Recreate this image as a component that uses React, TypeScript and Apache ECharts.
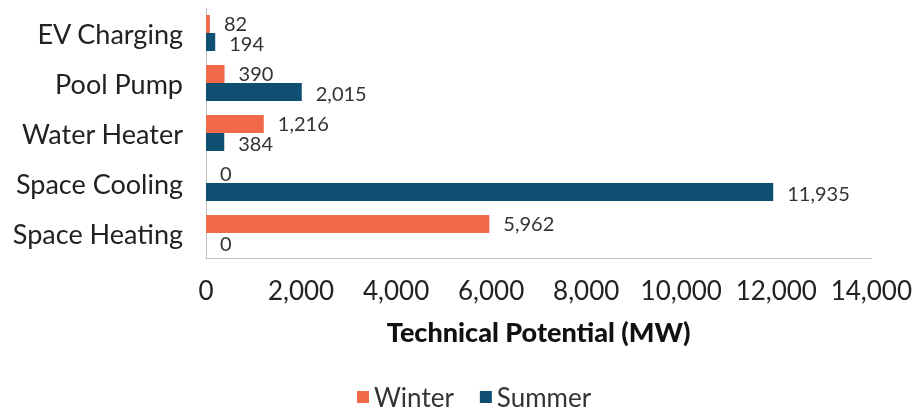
import React, { useEffect, useRef } from "react";
import * as echarts from "echarts";

const categories = ["Space Heating", "Space Cooling", "Water Heater", "Pool Pump", "EV Charging"];
const winterValues = [5962, 0, 1216, 390, 82];
const summerValues = [0, 11935, 384, 2015, 194];
const xTicks = { min: 0, max: 14000, interval: 2000 };

const FONT = "Lato, 'Noto Sans', sans-serif";
const fmt = (v: number) => v.toLocaleString("en-US");

export default function App() {
  const ref = useRef<HTMLDivElement>(null);
  useEffect(() => {
    if (!ref.current) return;
    const chart = echarts.init(ref.current, undefined, { renderer: "svg" });
    const labelCfg = (dy: number) => ({
      show: true,
      position: "right",
      distance: 14,
      offset: [0, dy],
      fontFamily: FONT,
      fontSize: 20,
      color: "#333",
      formatter: (p: any) => fmt(p.value),
    });
    chart.setOption({
      animation: false,
      textStyle: { fontFamily: FONT },
      grid: { left: 206, top: 8, right: 43, bottom: 155, containLabel: false },
      legend: {
        bottom: -2,
        left: 352,
        icon: "rect",
        itemWidth: 12,
        itemHeight: 12,
        itemGap: 26,
        textStyle: { fontFamily: FONT, fontSize: 26, color: "#333" },
        data: ["Winter", "Summer"],
      },
      xAxis: {
        type: "value",
        min: xTicks.min,
        max: xTicks.max,
        interval: xTicks.interval,
        axisLine: { show: true, lineStyle: { color: "#BFBFBF", width: 1 } },
        axisTick: { show: false },
        splitLine: { show: false },
        axisLabel: { fontFamily: FONT, fontSize: 26, color: "#222", margin: 19, formatter: (v: number) => fmt(v) },
        name: "Technical Potential (MW)",
        nameLocation: "middle",
        nameGap: 60,
        nameTextStyle: { fontFamily: FONT, fontSize: 27, fontWeight: 900, color: "#111" },
      },
      yAxis: {
        type: "category",
        data: categories,
        axisLine: { show: true, lineStyle: { color: "#BFBFBF", width: 1 } },
        axisTick: { show: false },
        axisLabel: { fontFamily: FONT, fontSize: 27, color: "#222", margin: 23 },
      },
      series: [
        {
          name: "Winter",
          type: "bar",
          data: winterValues,
          itemStyle: { color: "#F2694A" },
          barWidth: 18,
          barGap: "0%",
          label: labelCfg(-1),
        },
        {
          name: "Summer",
          type: "bar",
          data: summerValues,
          itemStyle: { color: "#0E4F72" },
          barWidth: 18,
          barGap: "0%",
          label: labelCfg(1),
        },
      ],
    });
    return () => chart.dispose();
  }, []);
  return <div ref={ref} style={{ position: "fixed", left: 0, top: 0, width: 915, height: 413 }} />;
}
